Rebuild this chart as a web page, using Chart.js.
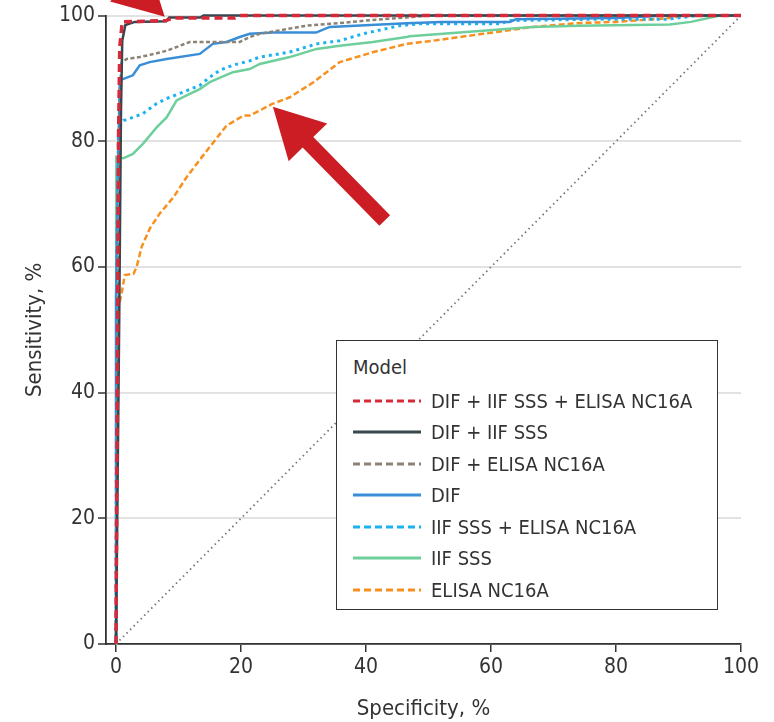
<!DOCTYPE html>
<html>
<head>
<meta charset="utf-8">
<script src="https://cdn.jsdelivr.net/npm/chart.js@4.4.1/dist/chart.umd.min.js"></script>
<style>
  html, body { margin: 0; padding: 0; background: #fff; }
  #wrap { position: relative; width: 774px; height: 722px; }
  #legend {
    position: absolute; left: 336px; top: 340px; width: 382px; height: 270px;
    border: 1.5px solid #333; background: #fff; box-sizing: border-box;
    font-family: 'Liberation Sans Narrow', 'DejaVu Sans Condensed', sans-serif;
    font-size: 20px; color: #333; padding: 12px 0 0 16px;
  }
  #legend .title { height: 32px; line-height: 28px; }
  #legend .row { height: 31.5px; display: flex; align-items: center; }
  #legend canvas { margin-right: 10px; }
</style>
</head>
<body>
<div id="wrap">
  <canvas id="roc" width="774" height="722"></canvas>
  <div id="legend"></div>
</div>
<script>
// Series (x = specificity axis %, y = sensitivity %)
const modelNames = ['DIF + IIF SSS + ELISA NC16A', 'DIF + IIF SSS', 'DIF + ELISA NC16A', 'DIF', 'IIF SSS + ELISA NC16A', 'IIF SSS', 'ELISA NC16A'];

const difIifElisaX = [0, 0.2, 0.4, 0.6, 1, 8, 9, 19, 20, 100];
const difIifElisaY = [0, 40, 80, 95, 99, 99.2, 99.6, 99.6, 100, 100];

const difIifX = [0, 0.5, 0.8, 1, 1.5, 3, 8, 8.5, 13.5, 14, 100];
const difIifY = [0, 50, 85, 96, 98.5, 99, 99.1, 99.7, 99.7, 100, 100];

const difElisaX = [0, 0.2, 0.4, 0.6, 0.9, 1.7, 3.8, 6.5, 8.1, 10.2, 11.8, 19.8, 21.4, 23, 30.5, 35.8, 41, 46.5, 50, 100];
const difElisaY = [0, 40, 70, 88, 92.5, 93.1, 93.4, 94, 94.4, 95.2, 95.8, 95.8, 96.6, 97.1, 98.4, 98.8, 99.3, 99.7, 100, 100];

const difX = [0, 0, 0.3, 0.6, 1.1, 2.7, 3.8, 5.4, 8.1, 13.4, 15.5, 17.7, 19.8, 21.4, 25.2, 32, 34.2, 46.5, 52, 63, 64, 80, 88, 100];
const difY = [0, 55, 75, 89.7, 89.9, 90.5, 92.1, 92.6, 93.1, 93.9, 95.5, 95.8, 96.6, 97.1, 97.3, 97.3, 98.2, 98.8, 99, 99, 99.4, 99.6, 100, 100];

const iifElisaX = [0, 0.1, 0.4, 1.2, 2.7, 4.3, 6.5, 8.1, 10.7, 13.4, 15, 16.6, 18.7, 21.4, 23, 27.8, 32.1, 35.8, 39.5, 45.4, 48.6, 61.4, 63, 75, 88, 93, 100];
const iifElisaY = [0, 60, 82.2, 83.3, 83.8, 84.4, 86, 86.8, 87.8, 88.9, 90.2, 91.3, 92.1, 92.8, 93.4, 94.2, 95.5, 96, 97.1, 98.4, 98.7, 98.7, 99.2, 99.4, 99.4, 100, 100];

const iifX = [0, 0, 0.1, 1.2, 2.7, 4.3, 6.5, 8.1, 9.7, 11.3, 13.4, 15, 18.7, 21.4, 23, 27.8, 32.1, 35.8, 41.1, 46.5, 47, 56, 66.7, 74, 88.6, 92, 96.6, 100];
const iifY = [0, 70, 77.5, 77.3, 78, 79.6, 82.2, 83.8, 86.5, 87.3, 88.3, 89.4, 91, 91.5, 92.3, 93.4, 94.7, 95.2, 95.8, 96.6, 96.7, 97.4, 98.2, 98.4, 98.6, 99, 100, 100];

const elisaX = [0, 0.1, 0.2, 0.4, 0.9, 1.4, 2.8, 3.3, 4.1, 5.4, 7, 9.2, 11.3, 12.9, 15, 17.7, 20.4, 21.4, 23, 24.9, 27.8, 31.6, 35.8, 41.2, 46.5, 50.7, 58.7, 66.7, 73.7, 80, 88.6, 91, 100];
const elisaY = [0, 30, 50.5, 53.6, 55.8, 58.7, 58.9, 60, 63.2, 66.1, 68.5, 71.1, 74.3, 76.4, 79.1, 82.5, 84.1, 84.1, 84.9, 85.9, 87, 89.4, 92.6, 94.2, 95.5, 96, 97.1, 98.2, 98.8, 99, 99.6, 100, 100];

const refLineX = [0, 100];
const refLineY = [0, 100];

const yTicks = [0, 20, 40, 60, 80, 100];
const xTicks = [0, 20, 40, 60, 80, 100];

// Annotation arrows, in data units: [fromX, fromY, toX, toY]
const arrowTop = [-9, 116, 7.8, 99.8];
const arrowBottom = [43, 67.4, 25.1, 85.5];

const fontFam = "'Liberation Sans Narrow', 'DejaVu Sans Condensed', sans-serif";
const textColor = '#333';

const styles = [
  { color: '#d62a3a', width: 3.5, dash: [8, 5] },
  { color: '#37464f', width: 2.5, dash: [] },
  { color: '#8c8375', width: 2.5, dash: [4, 2.5] },
  { color: '#3a8ed8', width: 2.5, dash: [] },
  { color: '#1cb2ef', width: 3, dash: [3, 4] },
  { color: '#6fcf9c', width: 2.5, dash: [] },
  { color: '#f7901e', width: 2.5, dash: [6, 3] }
];

const seriesX = [difIifElisaX, difIifX, difElisaX, difX, iifElisaX, iifX, elisaX];
const seriesY = [difIifElisaY, difIifY, difElisaY, difY, iifElisaY, iifY, elisaY];

const pts = (xs, ys) => xs.map((x, i) => ({ x, y: ys[i] }));

const datasets = modelNames.map((name, i) => ({
  label: name,
  data: pts(seriesX[i], seriesY[i]),
  borderColor: styles[i].color,
  borderWidth: styles[i].width,
  borderDash: styles[i].dash,
  pointRadius: 0,
  showLine: true,
  fill: false,
  tension: 0,
  clip: 6
}));

datasets.push({
  label: 'reference',
  data: pts(refLineX, refLineY),
  borderColor: '#777',
  borderWidth: 1.8,
  borderDash: [1.5, 3.5],
  pointRadius: 0,
  showLine: true,
  fill: false
});

// Draw red arrows through the scales
const arrowPlugin = {
  id: 'arrows',
  afterDatasetsDraw(chart) {
    const { ctx, scales: { x, y } } = chart;
    [arrowTop, arrowBottom].forEach(a => {
      const x0 = x.getPixelForValue(a[0]), y0 = y.getPixelForValue(a[1]);
      const x1 = x.getPixelForValue(a[2]), y1 = y.getPixelForValue(a[3]);
      const ang = Math.atan2(y1 - y0, x1 - x0);
      const headLen = 50, headW = 27, shaft = 7.5;
      const bx = x1 - headLen * Math.cos(ang), by = y1 - headLen * Math.sin(ang);
      const nx = -Math.sin(ang), ny = Math.cos(ang);
      ctx.save();
      ctx.fillStyle = '#cc1d24';
      ctx.beginPath();
      ctx.moveTo(x0 + nx * shaft, y0 + ny * shaft);
      ctx.lineTo(bx + nx * shaft, by + ny * shaft);
      ctx.lineTo(bx + nx * headW, by + ny * headW);
      ctx.lineTo(x1, y1);
      ctx.lineTo(bx - nx * headW, by - ny * headW);
      ctx.lineTo(bx - nx * shaft, by - ny * shaft);
      ctx.lineTo(x0 - nx * shaft, y0 - ny * shaft);
      ctx.closePath();
      ctx.fill();
      ctx.restore();
    });
  }
};

new Chart(document.getElementById('roc'), {
  type: 'scatter',
  data: { datasets },
  plugins: [arrowPlugin],
  options: {
    responsive: false,
    animation: false,
    layout: { padding: { top: 15, right: 33, left: 0, bottom: 0 } },
    plugins: { legend: { display: false }, tooltip: { enabled: false } },
    scales: {
      x: {
        type: 'linear',
        min: -1.6,
        max: 100,
        afterBuildTicks: s => { s.ticks = xTicks.map(v => ({ value: v })); },
        afterFit: s => { s.height = 78; },
        grid: { drawOnChartArea: false, drawTicks: true, tickLength: 8, color: textColor, lineWidth: 1.5 },
        border: { display: true, color: textColor, width: 1.8 },
        ticks: { color: textColor, font: { family: fontFam, size: 21 }, padding: 3, maxRotation: 0 },
        title: { display: true, text: 'Specificity, %', color: textColor, font: { family: fontFam, size: 22 }, padding: { top: 8, bottom: 0 } }
      },
      y: {
        type: 'linear',
        min: 0,
        max: 100,
        afterBuildTicks: s => { s.ticks = yTicks.map(v => ({ value: v })); },
        afterFit: s => { s.width = 106; },
        grid: { color: '#e2e2e2', lineWidth: 2, drawTicks: true, tickLength: 8, tickColor: textColor, tickWidth: 1.5 },
        border: { display: true, color: textColor, width: 1.8 },
        ticks: { color: textColor, font: { family: fontFam, size: 21 }, padding: 3 },
        title: { display: true, text: 'Sensitivity, %', color: textColor, font: { family: fontFam, size: 22 }, padding: { top: 22, bottom: 8 } }
      }
    }
  }
});

// HTML legend built from the same arrays
const legend = document.getElementById('legend');
const t = document.createElement('div');
t.className = 'title';
t.textContent = 'Model';
legend.appendChild(t);
modelNames.forEach((name, i) => {
  const row = document.createElement('div');
  row.className = 'row';
  const c = document.createElement('canvas');
  c.width = 68; c.height = 10;
  const g = c.getContext('2d');
  g.strokeStyle = styles[i].color;
  g.lineWidth = 3;
  g.setLineDash(styles[i].dash.length ? [7, 4] : []);
  g.beginPath(); g.moveTo(0, 5); g.lineTo(68, 5); g.stroke();
  row.appendChild(c);
  const s = document.createElement('span');
  s.textContent = name;
  row.appendChild(s);
  legend.appendChild(row);
});
</script>
</body>
</html>
